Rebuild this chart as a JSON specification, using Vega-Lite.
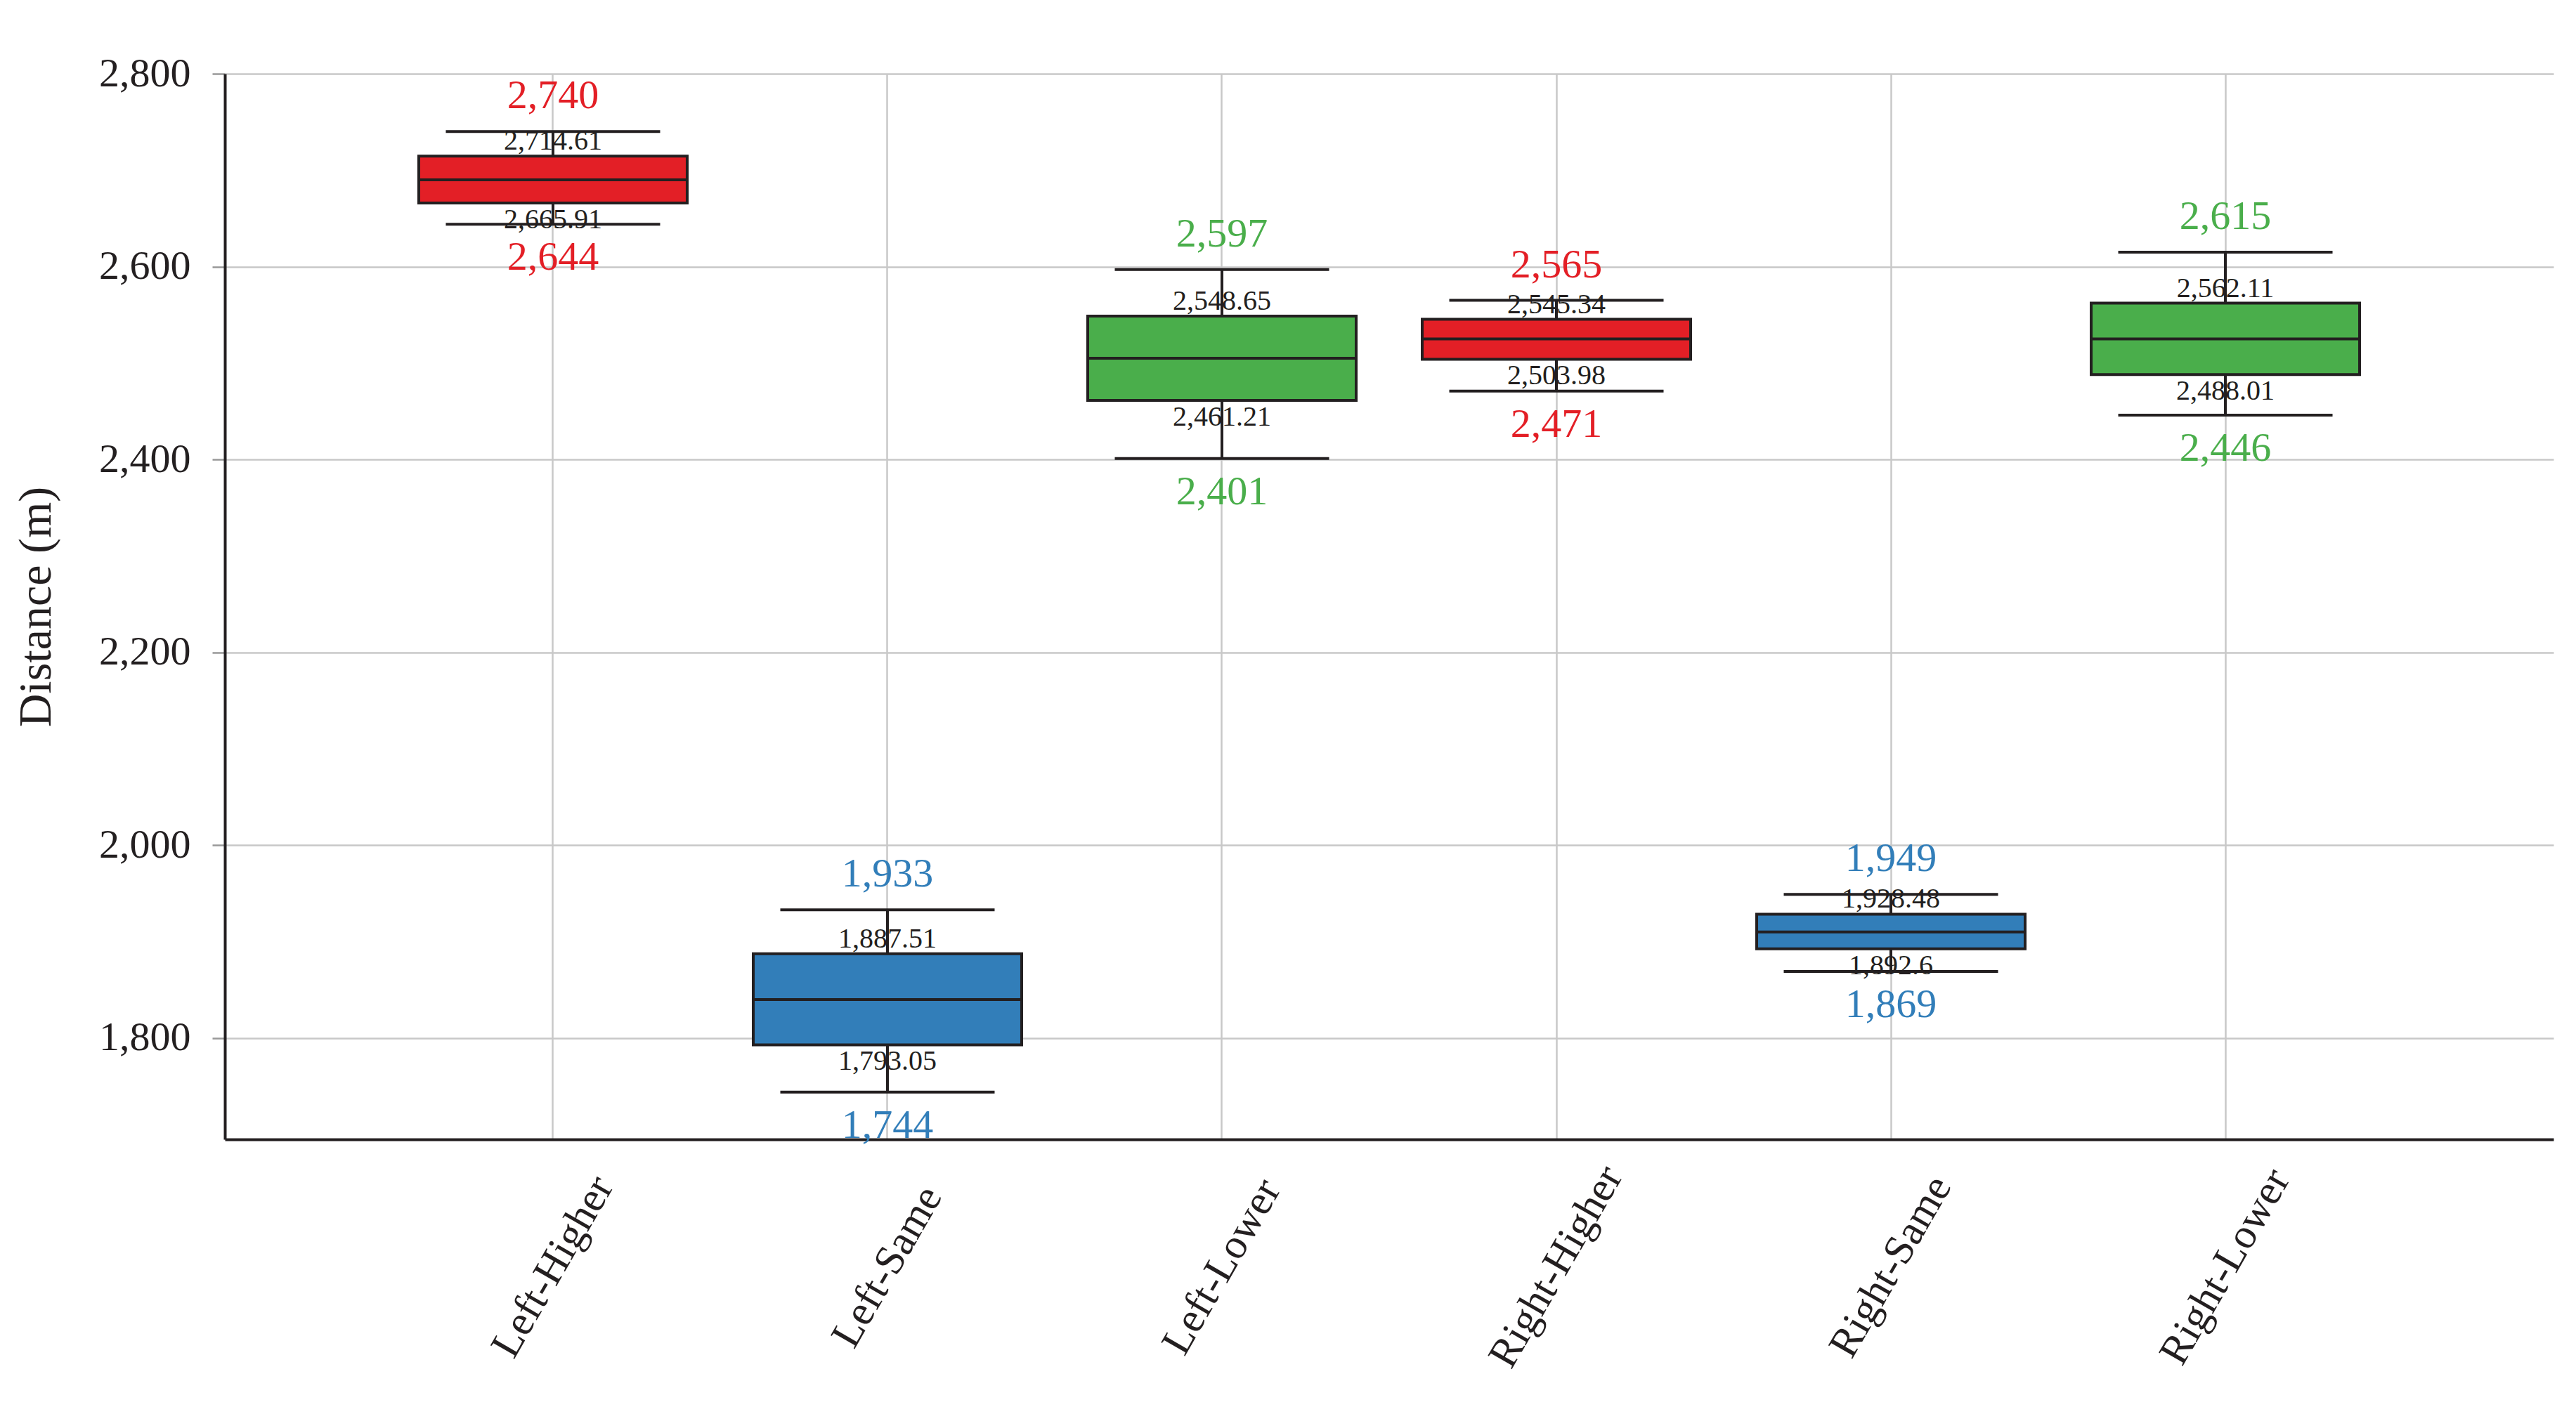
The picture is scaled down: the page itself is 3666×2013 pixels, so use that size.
{
  "$schema": "https://vega.github.io/schema/vega-lite/v6.json",
  "width": 3314,
  "height": 1517,
  "autosize": {"type": "none"},
  "padding": {"left": 320, "top": 105, "right": 32, "bottom": 391},
  "background": "white",
  "config": {
    "font": "Liberation Serif",
    "view": {"stroke": null},
    "axis": {"labelColor": "#231f20", "titleColor": "#231f20", "gridColor": "#c8c8c8", "gridWidth": 2.5, "domainColor": "#231f20", "domainWidth": 4}
  },
  "data": {
    "values": [
      {"cat": "Left-Higher", "elev": "Higher", "min": 2644, "q1": 2665.91, "median": 2690, "q3": 2714.61, "max": 2740},
      {"cat": "Left-Same", "elev": "Same", "min": 1744, "q1": 1793.05, "median": 1840, "q3": 1887.51, "max": 1933},
      {"cat": "Left-Lower", "elev": "Lower", "min": 2401, "q1": 2461.21, "median": 2505, "q3": 2548.65, "max": 2597},
      {"cat": "Right-Higher", "elev": "Higher", "min": 2471, "q1": 2503.98, "median": 2525, "q3": 2545.34, "max": 2565},
      {"cat": "Right-Same", "elev": "Same", "min": 1869, "q1": 1892.6, "median": 1910, "q3": 1928.48, "max": 1949},
      {"cat": "Right-Lower", "elev": "Lower", "min": 2446, "q1": 2488.01, "median": 2525, "q3": 2562.11, "max": 2615}
    ]
  },
  "encoding": {
    "x": {
      "field": "cat", "type": "nominal", "sort": null, "title": null,
      "scale": {"paddingInner": 0, "paddingOuter": 0.481},
      "axis": {"labelAngle": -60, "labelAlign": "center", "labelBaseline": "middle", "labelFontSize": 60, "labelPadding": 181, "labelLimit": 0, "ticks": false, "tickSize": 0, "grid": true, "bandPosition": 0.5, "labelOverlap": false}
    }
  },
  "layer": [
    {
      "mark": {"type": "rule", "color": "#231f20", "strokeWidth": 4},
      "encoding": {
        "y": {"field": "min", "type": "quantitative", "scale": {"domain": [1695, 2800], "nice": false, "zero": false},
          "axis": {"values": [1800, 2000, 2200, 2400, 2600, 2800], "format": ",.0f", "labelFontSize": 58, "labelPadding": 31, "tickSize": 18, "tickColor": "#999999", "tickWidth": 2.5, "title": "Distance (m)", "titleFontSize": 66, "titleFontWeight": "normal", "titlePadding": 55}},
        "y2": {"field": "max"}
      }
    },
    {
      "mark": {"type": "tick", "size": 305, "thickness": 4, "color": "#231f20", "opacity": 1},
      "encoding": {"y": {"field": "min", "type": "quantitative"}}
    },
    {
      "mark": {"type": "tick", "size": 305, "thickness": 4, "color": "#231f20", "opacity": 1},
      "encoding": {"y": {"field": "max", "type": "quantitative"}}
    },
    {
      "mark": {"type": "bar", "width": 382, "stroke": "#231f20", "strokeWidth": 4, "opacity": 1},
      "encoding": {
        "y": {"field": "q1", "type": "quantitative"},
        "y2": {"field": "q3"},
        "color": {"field": "elev", "type": "nominal", "legend": null,
          "scale": {"domain": ["Higher", "Same", "Lower"], "range": ["#e31f26", "#327eb9", "#4aae4b"]}}
      }
    },
    {
      "mark": {"type": "tick", "size": 382, "thickness": 4, "color": "#231f20", "opacity": 1},
      "encoding": {"y": {"field": "median", "type": "quantitative"}}
    },
    {
      "mark": {"type": "text", "fontSize": 58, "baseline": "alphabetic", "dy": -33},
      "encoding": {
        "y": {"field": "max", "type": "quantitative"},
        "text": {"field": "max", "type": "quantitative", "format": ","},
        "color": {"field": "elev", "type": "nominal", "legend": null}
      }
    },
    {
      "mark": {"type": "text", "fontSize": 58, "baseline": "top", "dy": 19},
      "encoding": {
        "y": {"field": "min", "type": "quantitative"},
        "text": {"field": "min", "type": "quantitative", "format": ","},
        "color": {"field": "elev", "type": "nominal", "legend": null}
      }
    },
    {
      "mark": {"type": "text", "fontSize": 40, "baseline": "alphabetic", "dy": -9, "color": "#231f20"},
      "encoding": {
        "y": {"field": "q3", "type": "quantitative"},
        "text": {"field": "q3", "type": "quantitative", "format": ","}
      }
    },
    {
      "mark": {"type": "text", "fontSize": 40, "baseline": "top", "dy": 4, "color": "#231f20"},
      "encoding": {
        "y": {"field": "q1", "type": "quantitative"},
        "text": {"field": "q1", "type": "quantitative", "format": ","}
      }
    }
  ]
}
